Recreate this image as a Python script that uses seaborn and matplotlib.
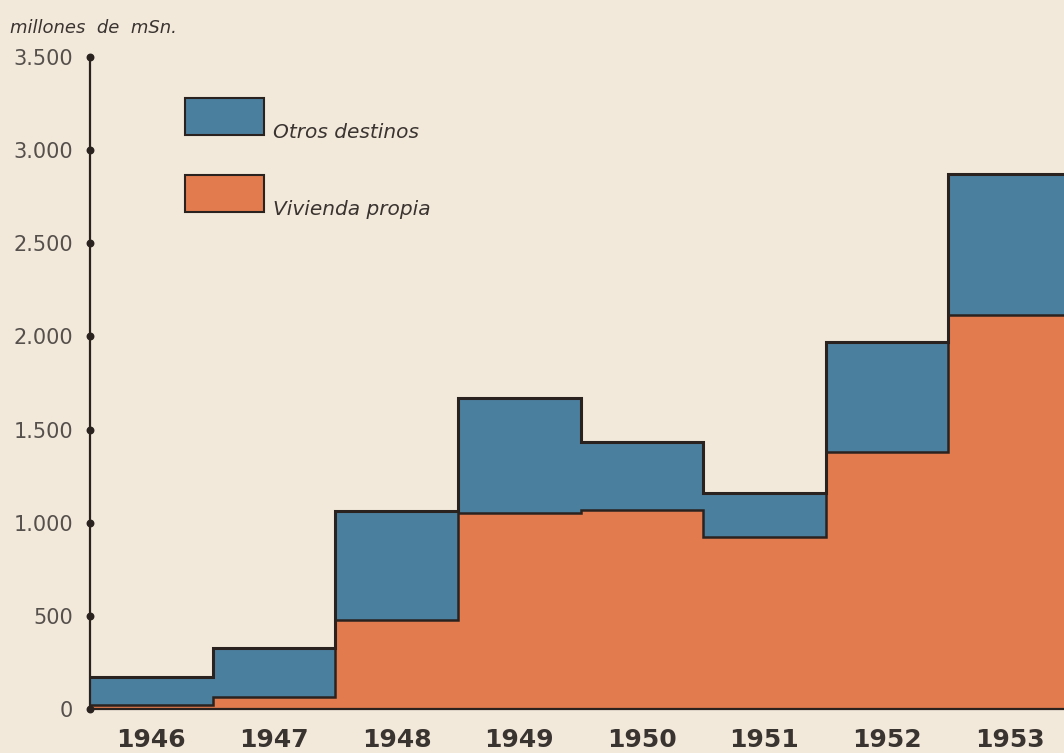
import numpy as np
import pandas as pd
import matplotlib
matplotlib.use("Agg")
import matplotlib.pyplot as plt
import seaborn as sns
from matplotlib.patches import Patch

years = ["1946", "1947", "1948", "1949", "1950", "1951", "1952", "1953"]
vivienda = [20, 62, 478, 1052, 1068, 925, 1380, 2115]
otros = [152, 265, 585, 617, 365, 234, 590, 757]
yticks = [0, 500, 1000, 1500, 2000, 2500, 3000, 3500]
ytick_labels = ["0", "500", "1.000", "1.500", "2.000", "2.500", "3.000", "3.500"]

BG = "#f3e9db"
BLUE = "#4b7f9e"
ORANGE = "#e27b4e"
INK = "#2a221f"

total = [v + o for v, o in zip(vivienda, otros)]
df = pd.DataFrame({"year": years, "vivienda": vivienda, "total": total})

sns.set_style("white")
plt.rcParams["font.family"] = ["DejaVu Sans"]

fig = plt.figure(figsize=(10.64, 7.53), dpi=100, facecolor=BG)
ax = fig.add_axes([90 / 1064, 44 / 753, 981 / 1064, 652 / 753])
ax.set_facecolor(BG)

sns.barplot(data=df, x="year", y="total", color=BLUE, width=1.0,
            saturation=1, linewidth=0, ax=ax)
sns.barplot(data=df, x="year", y="vivienda", color=ORANGE, width=1.0,
            saturation=1, linewidth=0, ax=ax)

edges = np.arange(len(years) + 1) - 0.5
ax.stairs(total, edges, baseline=None, color=INK, linewidth=2.2)
ax.stairs(vivienda, edges, baseline=None, color=INK, linewidth=1.8)

ax.set_xlim(-0.5, len(years) - 0.5)
ax.set_ylim(0, 3500)
ax.set_yticks(yticks)
ax.set_yticklabels(ytick_labels, fontsize=15, color="#55504c")
ax.set_xticks(range(len(years)))
ax.set_xticklabels(years, fontsize=18, fontweight="bold", color="#3a3431")
ax.tick_params(axis="y", length=0, pad=12)
ax.tick_params(axis="x", length=0, pad=14)
ax.set_xlabel("")
ax.set_ylabel("")

for s in ["top", "right"]:
    ax.spines[s].set_visible(False)
ax.spines["left"].set_color(INK)
ax.spines["left"].set_linewidth(1.6)
ax.spines["bottom"].set_color(INK)
ax.spines["bottom"].set_linewidth(1.6)

# dots on the axis at each tick
ax.scatter([0] * len(yticks), yticks, s=22, color=INK,
           transform=ax.get_yaxis_transform(), clip_on=False, zorder=5)

handles = [Patch(facecolor=BLUE, edgecolor=INK, linewidth=1.5, label="Otros destinos"),
           Patch(facecolor=ORANGE, edgecolor=INK, linewidth=1.5, label="Vivienda propia")]
leg = ax.legend(handles=handles, loc="upper left", bbox_to_anchor=(0.097, 0.937),
                frameon=False, borderaxespad=0, borderpad=0,
                handlelength=3.9, handleheight=2.45, labelspacing=2.0,
                handletextpad=0.45, prop={"size": 14.5, "style": "italic"})
for t in leg.get_texts():
    t.set_color("#3a3431")
    t.set_verticalalignment("top")

fig.text(10 / 1064, 1 - 28 / 753, "millones  de  mSn.", fontsize=13,
         style="italic", color="#3a3431", va="center", ha="left")

fig.savefig("out.png", dpi=100, facecolor=BG)
